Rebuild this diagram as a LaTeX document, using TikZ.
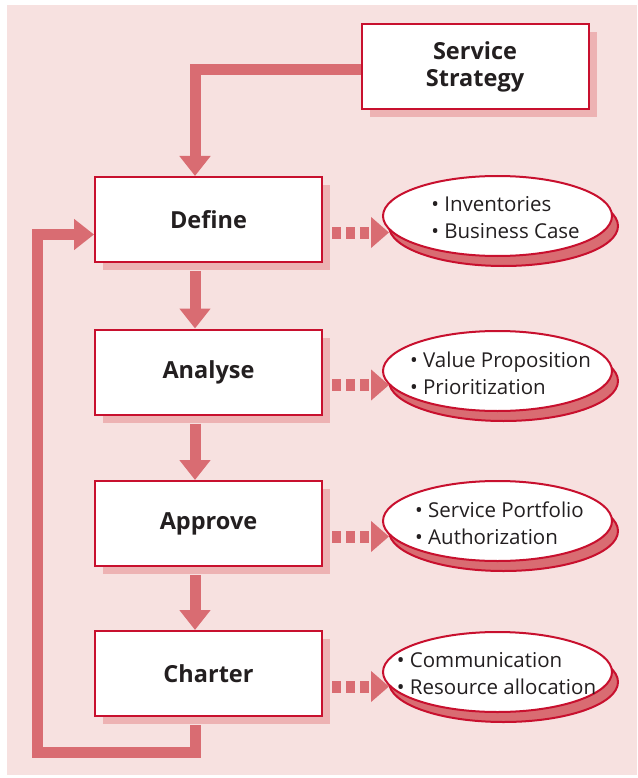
\documentclass[tikz,border=0pt]{standalone}
\usepackage{fontspec}
\setmainfont{Open Sans}
\usetikzlibrary{arrows.meta,shapes.geometric,shadows}
\definecolor{bgpink}{HTML}{F7E1E0}
\definecolor{crim}{HTML}{C8102E}
\definecolor{arr}{HTML}{D96C72}
\definecolor{shad}{HTML}{EDB2B3}
\definecolor{txt}{HTML}{231F20}
\begin{document}
\begin{tikzpicture}[x=1pt,y=-1pt,
 stepbox/.style={draw=crim, line width=2pt, fill=white, minimum width=227pt, minimum height=85pt, inner sep=0pt, font=\bfseries\fontsize{23.5}{27}\selectfont, text=txt, align=center, general shadow={fill=shad, draw=none, shadow xshift=8pt, shadow yshift=-8pt}},
 outbox/.style={ellipse, draw=crim, line width=2pt, fill=white, minimum width=229pt, minimum height=80pt, inner sep=0pt, general shadow={fill=arr, draw=crim, shadow xshift=6pt, shadow yshift=-10pt}},
 outtext/.style={inner sep=0pt, font=\fontsize{20.5}{27}\selectfont, text=txt, align=left},
 flow/.style={draw=arr, line width=11pt, -{Triangle[width=30pt,length=20pt]}},
 dots/.style={draw=arr, line width=12pt, dash pattern=on 9pt off 5pt, -{Triangle[width=30pt,length=18pt]}}]
\useasboundingbox (0,0) rectangle (637,778);
\fill[bgpink] (7,5) rectangle (637,775);
\node[stepbox] (ss) at (475,67) {Service\\Strategy};
\node[stepbox] (def) at (208.5,219.5) {Define};
\node[stepbox] (ana) at (208.5,372) {Analyse};
\node[stepbox] (app) at (208.5,523.5) {Approve};
\node[stepbox] (cha) at (208.5,673.5) {Charter};
\node[outbox] (e1) at (497.5,216) {};
\node[outbox] (e2) at (497.5,371) {};
\node[outbox] (e3) at (497.5,521) {};
\node[outbox] (e4) at (497.5,672) {};
\node[outtext] (t1) at ([xshift=8pt,yshift=-2pt]e1.center) {• Inventories\\• Business Case};
\node[outtext] (t2) at ([xshift=3pt,yshift=-2pt]e2.center) {• Value Proposition\\• Prioritization};
\node[outtext] (t3) at ([xshift=2pt,yshift=-2pt]e3.center) {• Service Portfolio\\• Authorization};
\node[outtext] (t4) at ([xshift=-1pt,yshift=-2pt]e4.center) {• Communication\\• Resource allocation};
\coordinate (loopc) at (37,752);
\draw[flow] ([yshift=-3pt]ss.west) -| ([xshift=-13.5pt]def.north);
\draw[flow] ([xshift=-13.5pt,yshift=-8pt]def.south) -- ([xshift=-13.5pt]ana.north);
\draw[flow] ([xshift=-13.5pt,yshift=-8pt]ana.south) -- ([xshift=-13.5pt]app.north);
\draw[flow] ([xshift=-13.5pt,yshift=-8pt]app.south) -- ([xshift=-13.5pt]cha.north);
\draw[flow] ([xshift=-13.5pt,yshift=-8pt]cha.south) |- (loopc) |- ([yshift=-15pt]def.west);
\draw[dots] ([xshift=9pt,yshift=-13pt]def.east) -- ++(57,0);
\draw[dots] ([xshift=9pt,yshift=-13pt]ana.east) -- ++(57,0);
\draw[dots] ([xshift=9pt,yshift=-13pt]app.east) -- ++(57,0);
\draw[dots] ([xshift=9pt,yshift=-13pt]cha.east) -- ++(57,0);
\end{tikzpicture}
\end{document}
